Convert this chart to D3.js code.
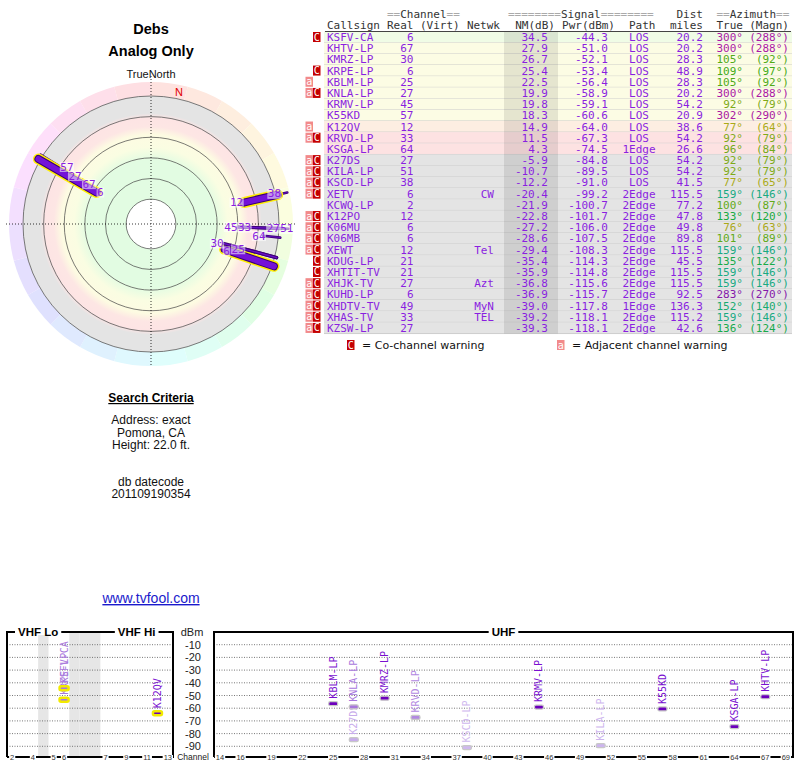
<!DOCTYPE html>
<html>
<head>
<meta charset="utf-8">
<script src="https://cdn.jsdelivr.net/npm/d3@7"></script>
<style>
body { margin: 0; background: #fff; }
svg { display: block; }
</style>
</head>
<body>
<svg id="chart" width="800" height="768"></svg>
<script>
// ---- station list, in report order ----
var callsigns = ["KSFV-CA","KHTV-LP","KMRZ-LP","KRPE-LP","KBLM-LP","KNLA-LP","KRMV-LP","K55KD","K12QV","KRVD-LP","KSGA-LP","K27DS","KILA-LP","KSCD-LP","XETV","KCWQ-LP","K12PO","K06MU","K06MB","XEWT","KDUG-LP","XHTIT-TV","XHJK-TV","KUHD-LP","XHDTV-TV","XHAS-TV","KZSW-LP"];
var realCh = [6,67,30,6,25,27,45,57,12,33,64,27,51,38,6,2,12,6,6,12,21,21,27,6,49,33,27];
var netwk = ["","","","","","","","","","","","","","","CW","","","","","Tel","","","Azt","","MyN","TEL",""];
var nmDb = [34.5,27.9,26.7,25.4,22.5,19.9,19.8,18.3,14.9,11.5,4.3,-5.9,-10.7,-12.2,-20.4,-21.9,-22.8,-27.2,-28.6,-29.4,-35.4,-35.9,-36.8,-36.9,-39.0,-39.2,-39.3];
var pwrDbm = [-44.3,-51.0,-52.1,-53.4,-56.4,-58.9,-59.1,-60.6,-64.0,-67.3,-74.5,-84.8,-89.5,-91.0,-99.2,-100.7,-101.7,-106.0,-107.5,-108.3,-114.3,-114.8,-115.6,-115.7,-117.8,-118.1,-118.1];
var paths = ["LOS","LOS","LOS","LOS","LOS","LOS","LOS","LOS","LOS","LOS","1Edge","LOS","LOS","LOS","2Edge","2Edge","2Edge","2Edge","2Edge","2Edge","2Edge","2Edge","2Edge","2Edge","1Edge","2Edge","2Edge"];
var distMi = [20.2,20.2,28.3,48.9,28.3,20.2,54.2,20.9,38.6,54.2,26.6,54.2,54.2,41.5,115.5,77.2,47.8,49.8,89.8,115.5,45.5,115.5,115.5,92.5,136.3,115.2,42.6];
var azTrue = [300,300,105,109,105,300,92,302,77,92,96,92,92,77,159,100,133,76,101,159,135,159,159,283,152,159,136];
var azMagn = [288,288,92,97,92,288,79,290,64,79,84,79,79,65,146,87,120,63,89,146,122,146,146,270,140,146,124];
var warnings = ["C","","","C","a","aC","","","a","aC","","aC","aC","aC","aC","","aC","aC","aC","aC","C","C","aC","aC","aC","aC","aC"];

// ---- axes / grids ----
var ringNm = [57.5, 45, 32.5, 20, 7.5, -5];
var vhfSlots = ["2","3","4","gap1","5","6","gap2","gap3","gap4","7","8","9","10","11","12","13"];
var vhfTicks = ["2","4","5","6","7","9","11","13"];
var uhfChannels = d3.range(14, 70);
var uhfTicks = [14,16,19,22,25,28,31,34,37,40,43,46,49,52,55,58,61,64,67,69];
var dbmTicks = [-10,-20,-30,-40,-50,-60,-70,-80,-90];
var plotCutoff = -15;   // stations weaker than this are not plotted

var svg = d3.select("#chart");
svg.append("rect").attr("width", 800).attr("height", 768).attr("fill", "#fff");

var purple = "#8a1fe0";
var hueOf = d3.scaleLinear().domain([0, 77, 92, 135, 360]).range([0, 60, 78, 140, 360]);
function azColor(a) { return d3.hsl(hueOf(a), 0.75, 0.38) + ""; }

var stations = callsigns.map(function (c, i) {
  return { call: c, ch: realCh[i], net: netwk[i], nm: nmDb[i], pwr: pwrDbm[i], path: paths[i],
           dist: distMi[i], az: azTrue[i], mag: azMagn[i], warn: warnings[i], vhf: realCh[i] <= 13 };
});
var plotted = stations.filter(function (s) { return s.nm > plotCutoff; });

// ================= left column =================
var left = svg.append("g").attr("font-family", "Liberation Sans, Arial, sans-serif").attr("text-anchor", "middle");
left.append("text").attr("x", 151).attr("y", 34).attr("font-size", 14.5).attr("font-weight", "bold").text("Debs");
left.append("text").attr("x", 151).attr("y", 56).attr("font-size", 14.5).attr("font-weight", "bold").text("Analog Only");
left.append("text").attr("x", 151).attr("y", 78).attr("font-size", 11).attr("fill", "#111").text("TrueNorth");

// ---- polar plot ----
var cx = 151, cy = 224;
var rScale = d3.scaleLinear().domain([35, -5]).range([62, 128]);
var rOuter = rScale(-5);
function polar(az, r) {
  var a = az * Math.PI / 180;
  return [cx + r * Math.sin(a), cy - r * Math.cos(a)];
}

var defs = svg.append("defs");
var grad = defs.append("radialGradient").attr("id", "bands")
  .attr("gradientUnits", "userSpaceOnUse").attr("cx", cx).attr("cy", cy).attr("r", rOuter);
[[0, "#e2fce2"], [0.5, "#e2fce2"], [0.6, "#fafde2"], [0.7, "#fdfbe2"], [0.76, "#fde6e4"],
 [0.83, "#fde4e4"], [0.865, "#e4e4e4"], [1, "#e4e4e4"]].forEach(function (s) {
  grad.append("stop").attr("offset", s[0]).attr("stop-color", s[1]);
});

var pol = svg.append("g");
var wheel = pol.append("g").attr("transform", "translate(" + cx + "," + cy + ")");
var wedgeArc = d3.arc().innerRadius(rOuter).outerRadius(rOuter + 14);
d3.range(0, 360, 15).forEach(function (a) {
  wheel.append("path")
    .attr("d", wedgeArc({ startAngle: a * Math.PI / 180, endAngle: (a + 15) * Math.PI / 180 }))
    .attr("fill", d3.hsl(hueOf(a + 7.5), 0.95, 0.935) + "");
});
pol.append("circle").attr("cx", cx).attr("cy", cy).attr("r", rOuter).attr("fill", "url(#bands)");
ringNm.forEach(function (v, i) {
  pol.append("circle").attr("cx", cx).attr("cy", cy).attr("r", rScale(v))
    .attr("fill", i === 0 ? "#fff" : "none").attr("stroke", "#444").attr("stroke-width", 0.7);
});
pol.append("line").attr("x1", cx - rOuter - 17).attr("x2", cx + rOuter + 17).attr("y1", cy).attr("y2", cy)
  .attr("stroke", "#000").attr("stroke-width", 0.8).attr("stroke-dasharray", "1,2");
pol.append("line").attr("x1", cx).attr("x2", cx).attr("y1", cy - rOuter - 20).attr("y2", cy + rOuter + 15)
  .attr("stroke", "#000").attr("stroke-width", 0.8).attr("stroke-dasharray", "1,2");

// magnetic north marker
var decl = azTrue[0] - azMagn[0];
var nPos = polar(decl, rOuter + 7);
pol.append("text").attr("x", nPos[0]).attr("y", nPos[1] + 4).attr("text-anchor", "middle")
  .attr("font-family", "Liberation Sans, Arial, sans-serif").attr("font-size", 11).attr("fill", "#e00000").text("N");

// station bars, weakest underneath
var barG = pol.append("g").attr("stroke-linecap", "round");
plotted.slice().reverse().forEach(function (s) {
  var p0 = polar(s.az, rScale(s.nm)), p1 = polar(s.az, rOuter + 2);
  function seg(color, w) {
    barG.append("line").attr("x1", p0[0]).attr("y1", p0[1]).attr("x2", p1[0]).attr("y2", p1[1])
      .attr("stroke", color).attr("stroke-width", w);
  }
  if (s.vhf) { seg("#ffee00", 11); seg("#3a0070", 8); seg("#7412d8", 6); }
  else { seg("#3c0078", s.nm > 15 ? 3.4 : 2.6); seg("#6a10c8", s.nm > 15 ? 1.4 : 0.8); }
});

// labels with a simple collision search along the radius
var placed = [];
function hits(b) {
  return placed.some(function (p) {
    return b.x0 < p.x1 - 2 && b.x1 > p.x0 + 2 && b.y0 < p.y1 - 2 && b.y1 > p.y0 + 2;
  });
}
var labG = pol.append("g").attr("font-family", "DejaVu Sans Mono, monospace").attr("font-size", 11);
var steps = [0];
d3.range(3, 33, 3).forEach(function (d) { steps.push(d, -d); });
plotted.forEach(function (s) {
  var txt = String(s.ch), w = txt.length * 6.62 + 1;
  var east = Math.sin(s.az * Math.PI / 180) > 0;
  var r0 = Math.min(rScale(s.nm), rOuter + 6), box = null;
  for (var k = 0; k < steps.length; k++) {
    var p = polar(s.az, r0 + steps[k]);
    var b = { x0: east ? p[0] - w : p[0], x1: east ? p[0] : p[0] + w, y0: p[1] - 5.5, y1: p[1] + 5.5 };
    if (!hits(b)) { box = b; break; }
  }
  if (!box) { var q = polar(s.az, r0); box = { x0: east ? q[0] - w : q[0], x1: east ? q[0] : q[0] + w, y0: q[1] - 5.5, y1: q[1] + 5.5 }; }
  placed.push(box);
  labG.append("rect").attr("x", box.x0).attr("y", box.y0 + 0.5).attr("width", w).attr("height", 10)
    .attr("fill", "#fff").attr("opacity", 0.55);
  labG.append("text").attr("x", box.x0 + 0.5).attr("y", box.y1 - 2).attr("fill", purple).text(txt);
});

// ---- search criteria ----
left.append("text").attr("x", 151).attr("y", 402).attr("font-size", 12).attr("font-weight", "bold")
  .attr("text-decoration", "underline").text("Search Criteria");
[["Address: exact", 424], ["Pomona, CA", 437], ["Height: 22.0 ft.", 449], ["db datecode", 486], ["201109190354", 498]]
  .forEach(function (t) {
    left.append("text").attr("x", 151).attr("y", t[1]).attr("font-size", 12).attr("fill", "#111").text(t[0]);
  });
left.append("text").attr("x", 151).attr("y", 603).attr("font-size", 14).attr("fill", "#1a1acc")
  .attr("text-decoration", "underline").text("www.tvfool.com");

// ================= station table =================
var rowH = 11.19, row0 = 37;
var rowY = function (i) { return row0 + i * rowH; };
var tbl = svg.append("g").attr("font-family", "DejaVu Sans Mono, monospace").attr("font-size", 11);
function rowFill(nm) {
  if (nm >= 30) return "#f0fce6";
  if (nm >= 16) return "#fcfce4";
  if (nm >= 12) return "#fdeee2";
  if (nm >= 0) return "#fde2e2";
  return "#e4e4e4";
}
stations.forEach(function (s, i) {
  var y = rowY(i);
  tbl.append("rect").attr("x", 324).attr("y", y - rowH / 2).attr("width", 468).attr("height", rowH).attr("fill", rowFill(s.nm));
  tbl.append("line").attr("x1", 324).attr("x2", 792).attr("y1", y + rowH / 2).attr("y2", y + rowH / 2)
    .attr("stroke", "#c4c4c4").attr("stroke-width", 0.8);
});
tbl.append("rect").attr("x", 504).attr("y", 31.5).attr("width", 54).attr("height", rowY(26) + rowH / 2 - 31.5)
  .attr("fill", "#000").attr("opacity", 0.09);

// header
function header(y, parts) {
  parts.forEach(function (p) {
    var t = tbl.append("text").attr("x", p.x).attr("y", y).attr("text-anchor", p.a || "start");
    p.t.forEach(function (seg) {
      t.append("tspan").attr("fill", seg[1] ? "#aaa" : "#333").text(seg[0]);
    });
  });
}
header(18, [
  { x: 387, t: [["==", 1], ["Channel"], ["==", 1]] },
  { x: 508, t: [["========", 1], ["Signal"], ["========", 1]] },
  { x: 703, a: "end", t: [["Dist"]] },
  { x: 716.5, t: [["==", 1], ["Azimuth"], ["==", 1]] }
]);
header(29, [
  { x: 327, t: [["Callsign"]] }, { x: 413.5, a: "end", t: [["Real"]] }, { x: 420, t: [["(Virt)"]] },
  { x: 500, a: "end", t: [["Netwk"]] }, { x: 555, a: "end", t: [["NM(dB)"]] }, { x: 615, a: "end", t: [["Pwr(dBm)"]] },
  { x: 629, t: [["Path"]] }, { x: 703, a: "end", t: [["miles"]] }, { x: 743, a: "end", t: [["True"]] },
  { x: 789, a: "end", t: [["(Magn)"]] }
]);
tbl.append("line").attr("x1", 325).attr("x2", 791).attr("y1", 31.5).attr("y2", 31.5).attr("stroke", "#444").attr("stroke-width", 1);

var cols = [
  { x: 327, a: "start", f: function (s) { return s.call; } },
  { x: 413.5, a: "end", f: function (s) { return s.ch; } },
  { x: 494, a: "end", f: function (s) { return s.net; } },
  { x: 548, a: "end", f: function (s) { return s.nm.toFixed(1); } },
  { x: 608, a: "end", f: function (s) { return s.pwr.toFixed(1); } },
  { x: 639, a: "middle", f: function (s) { return s.path; } },
  { x: 703, a: "end", f: function (s) { return s.dist.toFixed(1); } },
  { x: 743, a: "end", f: function (s) { return s.az + "\u00b0"; }, c: true },
  { x: 789, a: "end", f: function (s) { return "(" + s.mag + "\u00b0)"; }, c: true }
];
stations.forEach(function (s, i) {
  var y = rowY(i) + 4;
  cols.forEach(function (c) {
    tbl.append("text").attr("x", c.x).attr("y", y).attr("text-anchor", c.a)
      .attr("fill", c.c ? azColor(s.az) : purple).text(c.f(s));
  });
});

// warning flags
function flag(g, kind, x, yc) {
  g.append("rect").attr("x", x).attr("y", yc - 5).attr("width", 7.5).attr("height", 10)
    .attr("fill", kind === "C" ? "#c40000" : "#f28a8a");
  g.append("text").attr("x", x + 3.75).attr("y", yc + 3.5).attr("text-anchor", "middle")
    .attr("font-family", "DejaVu Sans Mono, monospace").attr("font-size", 10).attr("fill", "#fff").text(kind);
}
stations.forEach(function (s, i) {
  if (s.warn.indexOf("a") >= 0) flag(tbl, "a", 305.5, rowY(i));
  if (s.warn.indexOf("C") >= 0) flag(tbl, "C", 313, rowY(i));
});
var leg = svg.append("g").attr("font-family", "DejaVu Sans, sans-serif").attr("font-size", 11).attr("fill", "#111");
flag(leg, "C", 347, 345);
leg.append("text").attr("x", 362).attr("y", 349).text("= Co-channel warning");
flag(leg, "a", 557, 345);
leg.append("text").attr("x", 572).attr("y", 349).text("= Adjacent channel warning");

// ================= channel spectrum =================
var y = d3.scaleLinear().domain([0, -100]).range([632, 759]);
var yBottom = 757;
var xV = d3.scaleBand().domain(vhfSlots).range([7, 173]);
var xU = d3.scaleBand().domain(uhfChannels).range([214.9, 791]);
var panels = [
  { x0: 7, x1: 173, titles: [["VHF Lo", (xV("2") + xV("6") + xV.bandwidth()) / 2], ["VHF Hi", (xV("7") + xV("13") + xV.bandwidth()) / 2]] },
  { x0: 214, x1: 793, titles: [["UHF", (214 + 793) / 2]] }
];
var spec = svg.append("g").attr("font-family", "Liberation Sans, Arial, sans-serif");

// gaps in VHF band
vhfSlots.filter(function (d) { return d.indexOf("gap") === 0; }).forEach(function (d) {
  spec.append("rect").attr("x", xV(d)).attr("y", y(0)).attr("width", xV.bandwidth()).attr("height", yBottom - y(0))
    .attr("fill", "#e6e6e6");
});
panels.forEach(function (p) {
  dbmTicks.forEach(function (v) {
    spec.append("line").attr("x1", p.x0).attr("x2", p.x1).attr("y1", y(v)).attr("y2", y(v))
      .attr("stroke", "#555").attr("stroke-width", 0.8).attr("stroke-dasharray", "1,1.5");
  });
  spec.append("path").attr("d", "M" + p.x0 + "," + yBottom + "V" + y(0) + "H" + p.x1 + "V" + yBottom + "H" + p.x0)
    .attr("fill", "none").attr("stroke", "#000").attr("stroke-width", 2);
  p.titles.forEach(function (t) {
    var tx = spec.append("text").attr("x", t[1]).attr("y", y(0) + 4).attr("text-anchor", "middle")
      .attr("font-size", 11.5).attr("font-weight", "bold").text(t[0]);
    var bb = tx.node().getBBox();
    spec.insert("rect", function () { return tx.node(); }).attr("x", bb.x - 3).attr("y", y(0) - 3)
      .attr("width", bb.width + 6).attr("height", 6).attr("fill", "#fff");
  });
});

// channel tick labels sit in breaks of the bottom line
function tickLabel(txt, x) {
  var t = spec.append("text").attr("x", x).attr("y", yBottom + 2.5).attr("text-anchor", "middle")
    .attr("font-size", 7.5).attr("fill", "#333").text(txt);
  var bb = t.node().getBBox();
  spec.insert("rect", function () { return t.node(); }).attr("x", bb.x - 1).attr("y", yBottom - 2)
    .attr("width", bb.width + 2).attr("height", 4).attr("fill", "#fff");
}
vhfTicks.forEach(function (c) { tickLabel(c, xV(c) + xV.bandwidth() / 2); });
uhfTicks.forEach(function (c) { tickLabel(c, xU(c) + xU.bandwidth() / 2); });

// dBm axis between panels
spec.append("text").attr("x", 192).attr("y", 636).attr("text-anchor", "middle").attr("font-size", 11).attr("fill", "#222").text("dBm");
dbmTicks.forEach(function (v) {
  spec.append("text").attr("x", 193).attr("y", y(v) + 4).attr("text-anchor", "middle").attr("font-size", 11)
    .attr("fill", "#222").text(v);
});
spec.append("rect").attr("x", 177).attr("y", yBottom - 4).attr("width", 33).attr("height", 8).attr("fill", "#fff");
spec.append("text").attr("x", 193).attr("y", yBottom + 3).attr("text-anchor", "middle").attr("font-size", 8.5)
  .attr("fill", "#222").text("Channel");

// station markers and names
var lightScale = d3.scaleLinear().domain([20, -15]).range([0, 1]).clamp(true);
function markColor(s) {
  return s.warn.indexOf("C") >= 0 ? d3.interpolateRgb("#a878dc", "#d2bef0")(lightScale(s.nm)) : "#6c00bc";
}
var mk = spec.append("g");
plotted.slice().reverse().forEach(function (s) {
  var x = s.vhf ? xV(String(s.ch)) + xV.bandwidth() / 2 : xU(s.ch) + xU.bandwidth() / 2;
  var yy = y(s.pwr), col = markColor(s);
  mk.append("rect").attr("x", x - 4.5).attr("y", yy - 2).attr("width", 9).attr("height", 4).attr("rx", 1.5)
    .attr("fill", col).attr("stroke", s.vhf ? "#f2ea00" : "#c8c8c8").attr("stroke-width", s.vhf ? 2.5 : 1.2);
  mk.append("text").attr("transform", "translate(" + (x + 3.5) + "," + (yy - 5) + ") rotate(-90)")
    .attr("font-family", "DejaVu Sans Mono, monospace").attr("font-size", 10)
    .attr("fill", s.warn.indexOf("C") >= 0 ? col : "#7a10d0").text(s.call);
});
</script>
</body>
</html>
